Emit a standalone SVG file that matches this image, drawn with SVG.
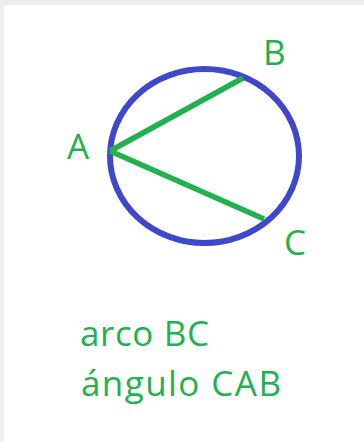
<svg xmlns="http://www.w3.org/2000/svg" width="364" height="442" viewBox="0 0 364 442">
<style>
.lbl{font-family:"Open Sans","Noto Sans","Liberation Sans",sans-serif;font-size:35px;fill:#22b14c}
.chord{stroke:#22b14c;stroke-width:5.5;stroke-linecap:butt;fill:none}
</style>
<rect width="364" height="442" fill="#ffffff"/>
<rect x="0" y="0" width="364" height="5" fill="#ececec"/>
<rect x="0" y="0" width="4" height="442" fill="#efefef"/>
<g id="circle">
<ellipse cx="204.5" cy="156" rx="94.5" ry="87" fill="none" stroke="#3f48cc" stroke-width="6"/>
</g>
<g id="connectors">
<line class="chord" x1="110" y1="151" x2="243" y2="78"/>
<line class="chord" x1="110" y1="151" x2="264" y2="219"/>
</g>
<g id="label-A"><text class="lbl" x="67" y="159">A</text></g>
<g id="label-B"><text class="lbl" x="263" y="65">B</text></g>
<g id="label-C"><text class="lbl" x="284" y="255">C</text></g>
<g id="caption">
<text class="lbl" x="80" y="345.5" textLength="129">arco BC</text>
<text class="lbl" x="81" y="395.5" textLength="200">ángulo CAB</text>
</g>
</svg>
